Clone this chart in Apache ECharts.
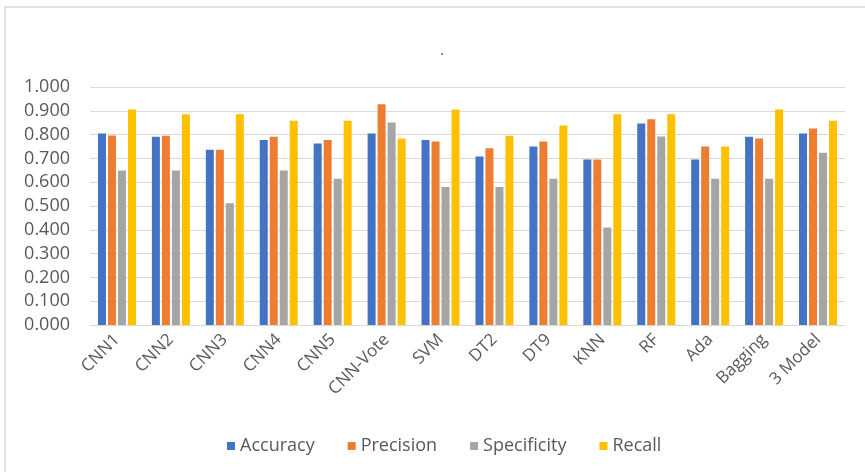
<!DOCTYPE html>
<html>
<head>
<meta charset="utf-8">
<script src="https://cdn.jsdelivr.net/npm/echarts@6/dist/echarts.min.js"></script>
<style>
  html, body { margin: 0; padding: 0; background: #ffffff; }
  #chart { width: 865px; height: 472px; }
</style>
</head>
<body>
<div id="chart"></div>
<script>
// Model names along the x axis
const models = ['CNN1', 'CNN2', 'CNN3', 'CNN4', 'CNN5', 'CNN-Vote', 'SVM', 'DT2', 'DT9', 'KNN', 'RF', 'Ada', 'Bagging', '3 Model'];

// Metric scores per model
const accuracy    = [0.805, 0.791, 0.736, 0.777, 0.763, 0.805, 0.777, 0.708, 0.750, 0.695, 0.847, 0.695, 0.791, 0.805];
const precision   = [0.796, 0.795, 0.736, 0.791, 0.777, 0.927, 0.771, 0.743, 0.771, 0.695, 0.865, 0.750, 0.784, 0.826];
const specificity = [0.649, 0.649, 0.512, 0.649, 0.614, 0.851, 0.580, 0.580, 0.614, 0.410, 0.792, 0.614, 0.614, 0.724];
const recall      = [0.905, 0.886, 0.886, 0.858, 0.858, 0.784, 0.905, 0.795, 0.838, 0.886, 0.886, 0.750, 0.905, 0.858];

const seriesNames = ['Accuracy', 'Precision', 'Specificity', 'Recall'];
const seriesData = [accuracy, precision, specificity, recall];
const palette = ['#4472C4', '#ED7D31', '#A5A5A5', '#FFC000'];

const font = '"Open Sans", "Noto Sans", sans-serif';
const chart = echarts.init(document.getElementById('chart'), null, { renderer: 'canvas' });

chart.setOption({
  animation: false,
  backgroundColor: '#ffffff',
  color: palette,
  title: {
    text: '.',
    left: 437,
    top: 39,
    textAlign: 'center',
    textStyle: { color: '#404040', fontSize: 14, fontWeight: 'normal', fontFamily: font }
  },
  graphic: [
    { type: 'line', shape: { x1: 4, y1: 7, x2: 865, y2: 7 }, style: { stroke: '#d9d9d9', lineWidth: 1.5 }, silent: true },
    { type: 'line', shape: { x1: 5, y1: 7, x2: 5, y2: 472 }, style: { stroke: '#d9d9d9', lineWidth: 1.5 }, silent: true }
  ],
  legend: {
    data: seriesNames,
    left: 222,
    top: 432,
    itemWidth: 8,
    itemHeight: 8,
    itemGap: 33,
    icon: 'rect',
    textStyle: { color: '#595959', fontSize: 18, fontFamily: font }
  },
  grid: { left: 90, right: 20, top: 87, bottom: 147, containLabel: false },
  xAxis: {
    type: 'category',
    data: models,
    axisLine: { lineStyle: { color: '#d9d9d9', width: 1 } },
    axisTick: { show: false },
    axisLabel: {
      rotate: 45,
      interval: 0,
      margin: 12,
      color: '#595959',
      fontSize: 17,
      fontFamily: font
    }
  },
  yAxis: {
    type: 'value',
    min: 0,
    max: 1,
    interval: 0.1,
    axisLine: { show: false },
    axisTick: { show: false },
    splitLine: { lineStyle: { color: '#d9d9d9', width: 1 } },
    axisLabel: {
      margin: 20,
      color: '#595959',
      fontSize: 18,
      fontFamily: font,
      formatter: v => v.toFixed(3)
    }
  },
  series: seriesNames.map((name, i) => ({
    name: name,
    type: 'bar',
    data: seriesData[i],
    barWidth: 8,
    barGap: '25%',
    itemStyle: { color: palette[i] }
  }))
});
</script>
</body>
</html>
